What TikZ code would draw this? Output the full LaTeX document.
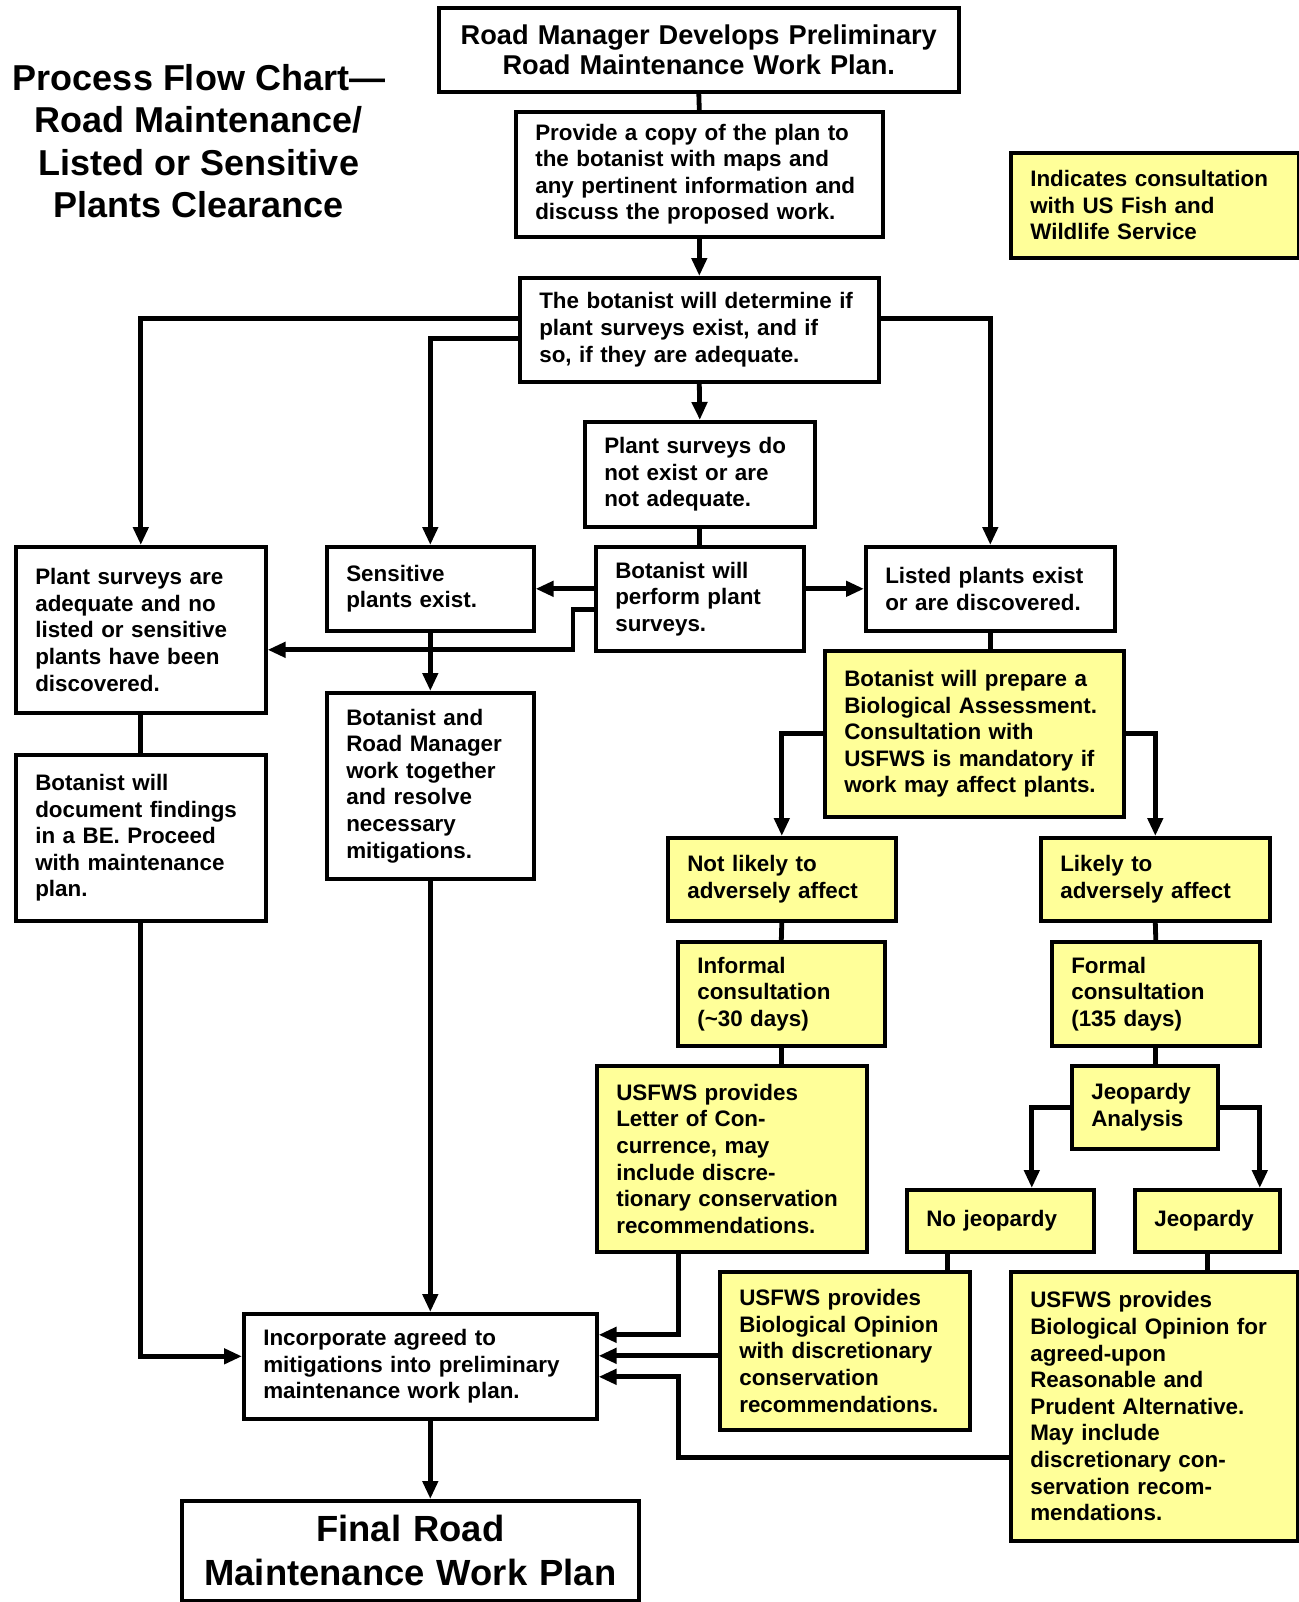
\documentclass[tikz,border=0pt]{standalone}
\usepackage{fontspec}
\setmainfont{Liberation Sans}
\usetikzlibrary{arrows.meta}
\definecolor{consult}{RGB}{255,255,153}

\begin{document}
\begin{tikzpicture}[x=0.5pt, y=-0.5pt,
    box/.style={draw, line width=1.8pt, fill=white, anchor=north west,
      inner xsep=9.75pt, inner ysep=0pt, align=left,
      font=\bfseries\fontsize{11.2}{13.3}\selectfont},
    ybox/.style={box, fill=consult},
    conn/.style={line width=2.4pt},
    arr/.style={conn, -{Triangle[length=9pt, width=7.5pt]}}]
    \useasboundingbox (0,0) rectangle (1299,1602);

    % Title and legend
    \node[align=center, font=\bfseries\fontsize{18}{21.2}\selectfont] (title) at (199,141)
      {Process Flow Chart\textemdash\\Road Maintenance/\\Listed or Sensitive\\Plants Clearance};
    \node[ybox, text width=124.5pt, minimum height=52.5pt] (legend) at (1009,151)
      {Indicates consultation\\with US Fish and\\Wildlife Service};

    % Upper boxes
    \node[box, align=center, text width=240.5pt, minimum height=42pt,
      font=\bfseries\fontsize{13.6}{15.3}\selectfont] (prelim) at (437,6)
      {Road Manager Develops Preliminary\\Road Maintenance Work Plan.};
    \node[box, text width=164pt, minimum height=62.5pt] (copy) at (514,110)
      {Provide a copy of the plan to\\the botanist with maps and\\any pertinent information and\\discuss the proposed work.};
    \node[box, text width=160pt, minimum height=52pt] (determine) at (518,276)
      {The botanist will determine if\\plant surveys exist, and if\\so, if they are adequate.};
    \node[box, text width=95.5pt, minimum height=52.5pt] (noexist) at (583,420)
      {Plant surveys do\\not exist or are\\not adequate.};

    % Middle row
    \node[box, text width=105.5pt, minimum height=83pt] (adequate) at (14,545)
      {Plant surveys are\\adequate and no\\listed or sensitive\\plants have been\\discovered.};
    \node[box, text width=84pt, minimum height=42pt] (sensitive) at (325,545)
      {Sensitive\\plants exist.};
    \node[box, text width=84.5pt, minimum height=52pt] (survey) at (594,545)
      {Botanist will\\perform plant\\surveys.};
    \node[box, text width=105pt, minimum height=42pt] (listed) at (864,545)
      {Listed plants exist\\or are discovered.};
    \node[ybox, text width=130pt, minimum height=83pt] (assess) at (823,649)
      {Botanist will prepare a\\Biological Assessment.\\Consultation with\\USFWS is mandatory if\\work may affect plants.};
    \node[box, text width=105.5pt, minimum height=83pt] (document) at (14,753)
      {Botanist will\\document findings\\in a BE. Proceed\\with maintenance\\plan.};
    \node[box, text width=84pt, minimum height=93pt] (resolve) at (325,691)
      {Botanist and\\Road Manager\\work together\\and resolve\\necessary\\mitigations.};

    % Consultation branch
    \node[ybox, text width=94.5pt, minimum height=41.5pt] (notlikely) at (666,836)
      {Not likely to\\adversely affect};
    \node[ybox, text width=95pt, minimum height=41.5pt] (likely) at (1039,836)
      {Likely to\\adversely affect};
    \node[ybox, text width=84pt, minimum height=52pt] (informal) at (676,940)
      {Informal\\consultation\\(\textasciitilde30 days)};
    \node[ybox, text width=84.5pt, minimum height=52pt] (formal) at (1050,940)
      {Formal\\consultation\\(135 days)};
    \node[ybox, text width=115.5pt, minimum height=93pt] (letter) at (595,1064)
      {USFWS provides\\Letter of Con-\\currence, may\\include discre-\\tionary conservation\\recommendations.};
    \node[ybox, text width=53.5pt, minimum height=41.5pt] (jeopanal) at (1070,1064)
      {Jeopardy\\Analysis};
    \node[ybox, text width=74pt, minimum height=31pt] (nojeop) at (905,1188)
      {No jeopardy};
    \node[ybox, text width=53pt, minimum height=31pt] (jeop) at (1133,1188)
      {Jeopardy};
    \node[ybox, text width=105.5pt, minimum height=79pt] (opinion) at (718,1270)
      {USFWS provides\\Biological Opinion\\with discretionary\\conservation\\recommendations.};
    \node[ybox, text width=124pt, minimum height=134.5pt] (rpa) at (1009,1270)
      {USFWS provides\\Biological Opinion for\\agreed-upon\\Reasonable and\\Prudent Alternative.\\May include\\discretionary con-\\servation recom-\\mendations.};

    % Bottom boxes
    \node[box, text width=157pt, minimum height=52.5pt] (incorp) at (242,1312)
      {Incorporate agreed to\\mitigations into preliminary\\maintenance work plan.};
    \node[box, align=center, text width=209pt, minimum height=50pt,
      font=\bfseries\fontsize{18.2}{22}\selectfont] (final) at (180,1499)
      {Final Road\\Maintenance Work Plan};

    % Connectors, top part
    \draw[conn] (prelim.south) -- (copy.north);
    \draw[arr] (copy.south) -- (determine.north);
    \draw[arr] ([yshift=5.5pt]determine.west) -| (adequate.north);
    \draw[arr] ([yshift=-4.5pt]determine.west) -| (sensitive.north);
    \draw[arr] ([yshift=5.5pt]determine.east) -| (listed.north);
    \draw[arr] (determine.south) -- (noexist.north);
    \draw[conn] (noexist.south) -- (survey.north);
    \draw[arr] (survey.west |- sensitive.east) -- (sensitive.east);
    \draw[arr] (survey.east |- listed.west) -- (listed.west);
    \draw[arr] ([yshift=-5.5pt]survey.west) -- ++(-21,0) |- ([yshift=-10pt]adequate.east);
    \draw[arr] (sensitive.south) -- (resolve.north);
    \draw[conn] (adequate.south) -- (document.north);

    % Connectors, consultation
    \draw[conn] (listed.south) -- (listed.south |- assess.north);
    \draw[arr] (assess.west) -| (notlikely.north);
    \draw[arr] (assess.east) -| (likely.north);
    \draw[conn] (notlikely.south) -- (informal.north);
    \draw[conn] (likely.south) -- (formal.north);
    \draw[conn] (informal.south) -- (informal.south |- letter.north);
    \draw[conn] (formal.south) -- (formal.south |- jeopanal.north);
    \draw[arr] (jeopanal.west) -| ([xshift=15.75pt]nojeop.north);
    \draw[arr] (jeopanal.east) -| ([xshift=26.25pt]jeop.north);
    \coordinate (nj) at ([xshift=-26.25pt]nojeop.south);
    \draw[conn] (nj) -- (nj |- opinion.north);
    \draw[conn] (jeop.south) -- (jeop.south |- rpa.north);

    % Connectors into the work plan
    \coordinate (in1) at ([yshift=15.75pt]incorp.east);
    \coordinate (in2) at ([yshift=5.25pt]incorp.east);
    \coordinate (in3) at ([yshift=-5.25pt]incorp.east);
    \coordinate (drop) at ([xshift=-26.5pt]letter.south);
    \draw[arr] (document.south) |- ([yshift=5pt]incorp.west);
    \draw[arr] (resolve.south) -- (resolve.south |- incorp.north);
    \draw[arr] (drop) |- (in1);
    \draw[arr] (opinion.west |- in2) -- (in2);
    \draw[arr] ([yshift=-25.75pt]rpa.west) -| (drop |- in3) -- (in3);
    \draw[arr] (resolve.south |- incorp.south) -- (resolve.south |- final.north);
\end{tikzpicture}
\end{document}
